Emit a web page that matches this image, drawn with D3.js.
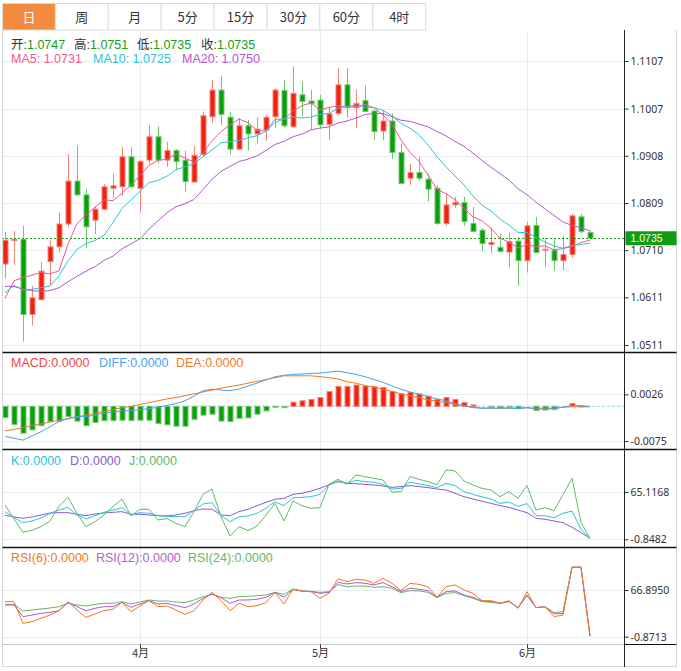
<!DOCTYPE html>
<html><head><meta charset="utf-8">
<script src="https://cdn.jsdelivr.net/npm/d3@7/dist/d3.min.js"></script>
<style>
body{margin:0;background:#fff;}
svg{display:block;font-family:"Noto Sans CJK SC","Noto Sans",sans-serif;}
</style>
</head><body>
<svg id="c" width="681" height="671"></svg>
<script>
// ---------------- DATA ----------------
const tabs = ["日","周","月","5分","15分","30分","60分","4时"];
const dates = [
"2023-03-13","2023-03-14","2023-03-15","2023-03-16","2023-03-17","2023-03-20","2023-03-21","2023-03-22","2023-03-23","2023-03-24",
"2023-03-27","2023-03-28","2023-03-29","2023-03-30","2023-03-31","2023-04-03","2023-04-04","2023-04-05","2023-04-06","2023-04-07",
"2023-04-10","2023-04-11","2023-04-12","2023-04-13","2023-04-14","2023-04-17","2023-04-18","2023-04-19","2023-04-20","2023-04-21",
"2023-04-24","2023-04-25","2023-04-26","2023-04-27","2023-04-28","2023-05-01","2023-05-02","2023-05-03","2023-05-04","2023-05-05",
"2023-05-08","2023-05-09","2023-05-10","2023-05-11","2023-05-12","2023-05-15","2023-05-16","2023-05-17","2023-05-18","2023-05-19",
"2023-05-22","2023-05-23","2023-05-24","2023-05-25","2023-05-26","2023-05-29","2023-05-30","2023-05-31","2023-06-01","2023-06-02",
"2023-06-05","2023-06-06","2023-06-07","2023-06-08","2023-06-09","2023-06-12"];
const open = [1.0681,1.0730,1.0733,1.0575,1.0606,1.0686,1.0717,1.0765,1.0855,1.0826,
1.0773,1.0796,1.0840,1.0843,1.0906,1.0840,1.0899,1.0948,1.0899,1.0919,
1.0899,1.0853,1.0911,1.0990,1.1046,1.0989,1.0922,1.0971,1.0954,1.0962,
1.0990,1.1045,1.0969,1.1036,1.1023,1.1025,1.0974,1.0997,1.1057,1.1009,
1.1024,1.1002,1.0960,1.0981,1.0915,1.0861,1.0873,1.0859,1.0840,1.0766,
1.0805,1.0810,1.0766,1.0752,1.0722,1.0716,1.0706,1.0729,1.0688,1.0762,
1.0710,1.0710,1.0688,1.0701,1.0780,1.0747];
const high = [1.0748,1.0750,1.0761,1.0635,1.0686,1.0731,1.0789,1.0912,1.0930,1.0838,
1.0801,1.0849,1.0871,1.0926,1.0926,1.0900,1.0973,1.0970,1.0938,1.0922,
1.0919,1.0929,1.1001,1.1067,1.1076,1.1000,1.0987,1.0983,1.0989,1.0994,
1.1050,1.1067,1.1096,1.1064,1.1046,1.1036,1.1011,1.1092,1.1092,1.1047,
1.1055,1.1004,1.1004,1.0997,1.0934,1.0891,1.0906,1.0871,1.0847,1.0829,
1.0822,1.0822,1.0801,1.0756,1.0756,1.0744,1.0747,1.0738,1.0770,1.0780,
1.0735,1.0735,1.0740,1.0787,1.0786,1.0751];
const low = [1.0651,1.0679,1.0518,1.0552,1.0605,1.0637,1.0705,1.0759,1.0824,1.0714,
1.0744,1.0794,1.0819,1.0824,1.0842,1.0789,1.0892,1.0892,1.0885,1.0878,
1.0833,1.0852,1.0906,1.0978,1.0973,1.0911,1.0920,1.0919,1.0934,1.0939,
1.0966,1.0966,1.0967,1.0992,1.0962,1.0964,1.0941,1.0992,1.0988,1.0967,
1.1000,1.0941,1.0941,1.0901,1.0850,1.0847,1.0856,1.0812,1.0763,1.0761,
1.0798,1.0761,1.0749,1.0708,1.0703,1.0707,1.0674,1.0635,1.0663,1.0705,
1.0675,1.0667,1.0668,1.0694,1.0745,1.0735];
const close = [1.0731,1.0733,1.0575,1.0610,1.0666,1.0717,1.0765,1.0855,1.0826,1.0759,
1.0796,1.0843,1.0845,1.0906,1.0843,1.0896,1.0948,1.0899,1.0919,1.0896,
1.0854,1.0909,1.0992,1.1046,1.0995,1.0922,1.0971,1.0954,1.0964,1.0989,
1.1046,1.0971,1.1039,1.1022,1.1017,1.0973,1.0996,1.1057,1.1009,1.1018,
1.1001,1.0959,1.0981,1.0915,1.0850,1.0873,1.0861,1.0838,1.0766,1.0805,
1.0810,1.0770,1.0749,1.0724,1.0726,1.0707,1.0728,1.0688,1.0761,1.0705,
1.0712,1.0688,1.0701,1.0782,1.0749,1.0735];
// closes of the 19 sessions before the first candle (feed the moving averages)
const prevCloses = [1.0737,1.0689,1.0672,1.0694,1.0686,1.0648,1.0605,1.0596,1.0546,1.0606,
1.0576,1.0668,1.0597,1.0634,1.0683,1.0548,1.0545,1.0581,1.0640];

const diff = [-0.0065,-0.0069,-0.0073,-0.0064,-0.0055,-0.0044,-0.0033,-0.0026,-0.0022,-0.0022,
-0.0019,-0.0015,-0.0012,-0.0010,-0.0009,-0.0007,-0.0005,-0.0002,0.0002,0.0006,
0.0012,0.0022,0.0034,0.0037,0.0035,0.0034,0.0037,0.0044,0.0050,0.0057,
0.0064,0.0067,0.0069,0.0070,0.0071,0.0072,0.0074,0.0076,0.0073,0.0069,
0.0064,0.0058,0.0052,0.0044,0.0037,0.0031,0.0026,0.0021,0.0016,0.0012,
0.0006,0.0001,-0.0003,-0.0004,-0.0004,-0.0004,-0.0004,-0.0005,-0.0003,-0.0006,
-0.0006,-0.0005,-0.0002,0.0002,0.0001,0.0000];
const dea = [-0.0053,-0.0050,-0.0046,-0.0042,-0.0038,-0.0034,-0.0030,-0.0027,-0.0023,-0.0019,
-0.0015,-0.0011,-0.0007,-0.0003,0.0000,0.0004,0.0008,0.0012,0.0016,0.0019,
0.0023,0.0027,0.0031,0.0035,0.0039,0.0043,0.0046,0.0050,0.0054,0.0058,
0.0062,0.0066,0.0066,0.0066,0.0066,0.0064,0.0062,0.0059,0.0053,0.0050,
0.0045,0.0041,0.0037,0.0032,0.0027,0.0023,0.0019,0.0014,0.0011,0.0008,
0.0004,0.0001,-0.0002,-0.0004,-0.0004,-0.0004,-0.0004,-0.0004,-0.0003,-0.0004,
-0.0004,-0.0004,-0.0002,-0.0001,-0.0001,-0.0001];
const macd = [-0.00245,-0.0039,-0.0058,-0.0051,-0.0042,-0.0033,-0.0032,-0.0022,-0.0032,-0.0042,
-0.0035,-0.0031,-0.0031,-0.0030,-0.0031,-0.0030,-0.0030,-0.0037,-0.0040,-0.0043,
-0.0043,-0.0028,-0.0019,-0.0017,-0.0032,-0.0033,-0.0026,-0.0025,-0.0017,-0.0010,
-0.0001,-0.0003,0.0009,0.0012,0.0015,0.0019,0.0032,0.0043,0.0043,0.0046,
0.0044,0.0043,0.0041,0.0032,0.0027,0.0030,0.0027,0.0022,0.0015,0.0019,
0.0015,0.0008,0.0003,0.0000,-0.0002,-0.0003,-0.0002,-0.0005,0.0000,-0.0009,
-0.0008,-0.0007,0.0000,0.0006,0.0001,0.0000];

const kVal = [37.7,29.3,22.4,24.7,28.9,35.4,40.0,43.7,33.1,27.5,
32.1,36.8,40.0,43.3,33.1,36.3,35.4,32.1,31.2,30.7,
30.7,39.1,48.4,50.3,32.1,23.8,30.7,31.7,35.4,42.4,
51.6,46.1,57.2,57.7,58.6,61.9,74.9,80.5,77.2,81.4,
79.6,78.7,75.8,69.3,70.2,78.7,76.3,74.0,71.2,77.2,
74.0,65.6,61.9,58.2,55.4,49.3,51.2,45.1,48.9,32.1,
32.1,29.3,35.4,38.6,13.1,0.5];
const dVal = [32.6,30.3,28.4,30.3,33.1,35.8,36.3,36.3,34.0,32.1,
34.4,35.8,36.8,37.7,34.0,34.0,33.1,32.1,31.7,33.1,
35.4,39.1,41.4,41.0,33.1,32.1,37.7,41.0,46.1,50.7,
54.9,56.3,61.9,63.3,66.5,70.2,75.3,79.6,77.2,76.7,
75.8,74.9,73.5,71.6,72.6,74.0,72.6,71.2,69.3,67.9,
63.3,58.6,55.4,52.1,49.3,46.1,43.7,40.0,36.3,28.4,
27.0,24.7,22.4,15.9,8.4,0.5];
const jVal = [47.0,27.5,8.9,11.7,16.8,24.7,45.0,57.7,35.4,16.8,
23.8,33.1,44.7,55.4,31.7,41.0,41.0,26.1,28.0,21.4,
16.8,37.7,61.9,68.9,30.7,3.8,16.8,11.2,17.7,33.1,
49.3,24.7,52.6,46.1,42.4,43.3,75.8,82.8,75.8,88.9,
86.6,84.2,81.9,64.7,65.6,86.6,82.8,79.6,74.9,95.9,
94.5,80.5,74.9,70.2,67.9,58.6,65.6,56.3,74.0,40.0,
43.3,39.1,61.4,84.2,22.8,0.5];

const rsi6 = [50.0,50.0,18.5,20.9,25.8,30.6,36.9,50.0,37.9,27.2,
32.1,36.9,38.8,49.0,35.5,43.7,51.4,42.7,43.7,37.9,
31.6,36.9,52.4,63.5,51.4,36.9,47.6,42.7,44.2,48.5,
63.0,46.6,67.9,65.0,64.5,54.8,62.1,83.3,79.0,82.4,
81.4,76.6,83.8,76.6,65.9,76.6,75.1,71.7,56.3,71.7,
74.2,66.9,62.1,51.4,51.4,47.6,51.4,40.3,64.5,41.3,
42.7,28.2,30.6,100,100,0];
const rsi12 = [45.1,45.1,28.2,30.6,33.0,34.5,36.9,48.5,42.7,36.9,
40.3,42.7,42.7,49.0,41.7,46.6,51.4,46.6,47.6,44.2,
41.3,46.6,54.8,61.1,55.8,47.6,52.4,52.4,53.4,56.3,
63.5,56.3,67.9,65.5,64.5,62.1,63.5,78.0,75.6,77.6,
76.6,74.2,77.6,71.7,64.5,69.3,67.9,65.9,56.3,64.5,
65.5,59.6,56.3,50.9,50.0,47.6,50.5,41.3,59.6,41.3,
42.7,32.1,33.0,100,100,0];
const rsi24 = [46.1,46.1,36.4,37.9,39.3,40.8,42.7,47.6,45.1,43.7,
46.1,47.6,47.6,50.0,46.6,49.5,52.4,50.9,50.9,49.5,
48.5,52.4,57.2,60.6,56.3,54.8,57.2,57.7,58.7,59.6,
63.5,60.6,68.3,65.5,65.0,63.5,64.5,74.7,71.7,72.7,
72.7,70.8,71.7,69.3,63.0,65.9,65.5,63.5,55.8,62.1,
63.0,58.7,54.8,50.0,49.0,47.6,50.0,41.3,58.7,41.3,
42.7,34.0,35.5,100,100,0];

const priceTicks = [1.0511,1.0611,1.0710,1.0809,1.0908,1.1007,1.1107];
const macdTicks = [0.0026,-0.0075];
const kdjTicks = [65.1168,-0.8482];
const rsiTicks = [66.8950,-0.8713];
const lastPrice = 1.0735;
const legendZero = "0.0000";

// ---------------- DRAW ----------------
const svg = d3.select("#c");
const n = close.length;
const PL = 2, PR = 624.5, AXR = 676.5;
const C = {up:"#f3220e", upL:"#f4837a", dn:"#0b9f0b", dnL:"#72c872",
  grid:"#e7edf3", ma5:"#ef5b8c", ma10:"#2fc3dc", ma20:"#b358d2",
  diff:"#4aa2ec", dea:"#f4781c", k:"#2cc4dc", d:"#8a5cd2", j:"#62bb62",
  r6:"#f4781c", r12:"#b55bd0", r24:"#62bb62", text:"#333"};
const LEG_FONT = "'Liberation Sans','Noto Sans CJK SC',sans-serif";

const x = d3.scalePoint().domain(d3.range(n)).range([5, 5 + 9*(n-1)]);
const yP = d3.scaleLinear().domain([1.0511,1.1107]).range([345,61]);
const yM = d3.scaleLinear().domain([-0.0075,0.0026]).range([441,394.3]);
const yK = d3.scaleLinear().domain([-0.8482,65.1168]).range([539.3,492]);
const yR = d3.scaleLinear().domain([-0.8713,66.895]).range([636.7,590]);

// tabs
const tabW = 52.9;
const tg = svg.append("g");
tabs.forEach((t,i)=>{
  tg.append("rect").attr("x",2.5+i*tabW).attr("y",3.5).attr("width",tabW).attr("height",26.5)
    .attr("fill", i===0 ? "#f28b3e" : "#fff").attr("stroke","#dcdcdc");
  tg.append("text").attr("x",2.5+i*tabW+tabW/2).attr("y",21.5).attr("text-anchor","middle")
    .attr("font-size",13).attr("fill", i===0 ? "#fff" : "#333").text(t);
});

// frame
svg.append("line").attr("x1",2.5).attr("x2",2.5).attr("y1",30).attr("y2",667).attr("stroke","#d6d6d6");
svg.append("line").attr("x1",AXR).attr("x2",AXR).attr("y1",30).attr("y2",667).attr("stroke","#d6d6d6");
svg.append("line").attr("x1",2.5).attr("x2",AXR).attr("y1",666.5).attr("y2",666.5).attr("stroke","#d6d6d6");

// clip
svg.append("clipPath").attr("id","plot").append("rect").attr("x",PL+1).attr("y",31).attr("width",PR-PL-1).attr("height",613);

// grids
function hgrid(scale, ticks){
  svg.append("g").selectAll("line").data(ticks).join("line")
   .attr("x1",PL+1).attr("x2",PR).attr("y1",d=>Math.round(scale(d))+0.5).attr("y2",d=>Math.round(scale(d))+0.5)
   .attr("stroke",C.grid);
}
hgrid(yP, priceTicks); hgrid(yM, macdTicks); hgrid(yK, kdjTicks); hgrid(yR, rsiTicks);
const monthStarts = d3.range(1,n).filter(i => dates[i].slice(5,7) !== dates[i-1].slice(5,7));
svg.append("g").selectAll("line").data(monthStarts).join("line")
  .attr("x1",i=>Math.round(x(i))+0.5).attr("x2",i=>Math.round(x(i))+0.5).attr("y1",31).attr("y2",644)
  .attr("stroke",C.grid);

const plot = svg.append("g").attr("clip-path","url(#plot)");

// candles
const cg = plot.append("g");
d3.range(n).forEach(i=>{
  const up = close[i] >= open[i];
  const cx = Math.round(x(i)) + 0.5;
  cg.append("line").attr("x1",cx).attr("x2",cx).attr("y1",yP(high[i])).attr("y2",yP(low[i]))
    .attr("stroke", up?C.upL:C.dnL);
  const y0 = yP(Math.max(open[i],close[i])), y1 = yP(Math.min(open[i],close[i]));
  cg.append("rect").attr("x",cx-2.5).attr("y",y0).attr("width",5).attr("height",Math.max(1,y1-y0))
    .attr("fill", up?C.up:C.dn).attr("stroke", up?C.upL:C.dnL).attr("stroke-width",1);
});

// moving averages
const allCloses = prevCloses.concat(close);
const off = prevCloses.length;
function ma(p){ return close.map((c,i)=> d3.mean(allCloses.slice(i+off-p+1, i+off+1))); }
const lineP = d3.line().x((d,i)=>x(i)).y(d=>yP(d));
[[ma(5),C.ma5],[ma(10),C.ma10],[ma(20),C.ma20]].forEach(([arr,col])=>{
  plot.append("path").attr("d",lineP(arr)).attr("fill","none").attr("stroke",col).attr("stroke-width",1);
});

// last price line
plot.append("line").attr("x1",PL).attr("x2",PR).attr("y1",Math.round(yP(lastPrice))+0.5).attr("y2",Math.round(yP(lastPrice))+0.5)
  .attr("stroke","#18a418").attr("stroke-dasharray","2,2");

// MACD
plot.append("line").attr("x1",PL).attr("x2",PR).attr("y1",yM(0)).attr("y2",yM(0))
  .attr("stroke","#9fd6ea").attr("stroke-dasharray","3,2");
d3.range(n).forEach(i=>{
  const v = macd[i]; if (v===0) return;
  const cx = Math.round(x(i)) + 0.5;
  const ya = yM(Math.max(0,v)), yb = yM(Math.min(0,v));
  plot.append("rect").attr("x",cx-2.5).attr("y",ya).attr("width",5).attr("height",Math.max(1,yb-ya))
    .attr("fill", v>0?C.up:C.dn).attr("stroke", v>0?C.upL:C.dnL);
});
const lineM = d3.line().x((d,i)=>x(i)).y(d=>yM(d));
plot.append("path").attr("d",lineM(dea)).attr("fill","none").attr("stroke",C.dea).attr("stroke-width",1);
plot.append("path").attr("d",lineM(diff)).attr("fill","none").attr("stroke",C.diff).attr("stroke-width",1);

// KDJ
const lineK = d3.line().x((d,i)=>x(i)).y(d=>yK(d));
[[dVal,C.d],[kVal,C.k],[jVal,C.j]].forEach(([a,col])=>{
  plot.append("path").attr("d",lineK(a)).attr("fill","none").attr("stroke",col).attr("stroke-width",1);
});

// RSI
const lineR = d3.line().x((d,i)=>x(i)).y(d=>yR(d));
[[rsi24,C.r24],[rsi12,C.r12],[rsi6,C.r6]].forEach(([a,col])=>{
  plot.append("path").attr("d",lineR(a)).attr("fill","none").attr("stroke",col).attr("stroke-width",1);
});

// panel separators
[352.5,449.5,547.5].forEach(yy=>{
  svg.append("line").attr("x1",2.5).attr("x2",AXR).attr("y1",yy).attr("y2",yy).attr("stroke","#111").attr("stroke-width",1.5);
});
svg.append("line").attr("x1",2.5).attr("x2",PR).attr("y1",644.5).attr("y2",644.5).attr("stroke","#c8c8c8");
svg.append("line").attr("x1",PR).attr("x2",AXR).attr("y1",644.5).attr("y2",644.5).attr("stroke","#111");
svg.append("line").attr("x1",PR).attr("x2",PR).attr("y1",30).attr("y2",667).attr("stroke","#222");

// right axes
function rAxis(scale, ticks){
  const g = svg.append("g").attr("transform",`translate(${PR},0)`)
    .call(d3.axisRight(scale).tickValues(ticks).tickSize(4).tickPadding(2).tickFormat(d=>d.toFixed(4)));
  g.select(".domain").remove();
  g.selectAll("text").attr("font-size",10.5).attr("fill",C.text).attr("font-family","'Noto Sans','DejaVu Sans',sans-serif");
  g.selectAll("line").attr("stroke","#333");
}
rAxis(yP, priceTicks); rAxis(yM, macdTicks); rAxis(yK, kdjTicks); rAxis(yR, rsiTicks);

// last price tag
const ly = yP(lastPrice);
svg.append("rect").attr("x",PR+1).attr("y",ly-7).attr("width",AXR-PR-1).attr("height",14).attr("fill","#0f9e0f");
svg.append("text").attr("x",PR+6).attr("y",ly+3.5).attr("font-size",10.5).attr("fill","#fff")
  .attr("font-family","'Liberation Sans','DejaVu Sans',sans-serif").text(lastPrice.toFixed(4));

// x axis
const xg = svg.append("g");
monthStarts.forEach(i=>{
  const xx = Math.round(x(i))+0.5;
  xg.append("line").attr("x1",xx).attr("x2",xx).attr("y1",644.5).attr("y2",648).attr("stroke","#333");
  xg.append("text").attr("x",xx).attr("y",657).attr("text-anchor","middle").attr("font-size",11).attr("fill",C.text)
    .text((+dates[i].slice(5,7)) + "月");
});

// legends: one text element per item (label + value)
function legend(y, items){
  items.forEach(([xx,label,val,lc,vc])=>{
    const t = svg.append("text").attr("x",xx).attr("y",y).attr("font-size",12.5).attr("font-family",LEG_FONT);
    t.append("tspan").attr("fill",lc).text(label);
    t.append("tspan").attr("fill",vc).text(val);
  });
}
const last = n-1;
const f4 = v => v.toFixed(4);
legend(48.5, [[11,"开:",f4(open[last]),"#333","#13a013"],[74,"高:",f4(high[last]),"#333","#13a013"],
  [137,"低:",f4(low[last]),"#333","#13a013"],[201,"收:",f4(close[last]),"#333","#13a013"]]);
legend(62.5, [[11,"MA5: ",f4(ma(5)[last]),C.ma5,C.ma5],[93,"MA10: ",f4(ma(10)[last]),C.ma10,C.ma10],
  [182,"MA20: ",f4(ma(20)[last]),C.ma20,C.ma20]]);
legend(366.5, [[11,"MACD:",legendZero,"#ef4545","#ef4545"],[99,"DIFF:",legendZero,C.diff,C.diff],[176,"DEA:",legendZero,C.dea,C.dea]]);
legend(464.5, [[11,"K:",legendZero,C.k,C.k],[70,"D:",legendZero,C.d,C.d],[129,"J:",legendZero,C.j,C.j]]);
legend(561.5, [[11,"RSI(6):",legendZero,C.r6,C.r6],[96,"RSI(12):",legendZero,C.r12,C.r12],[188,"RSI(24):",legendZero,C.r24,C.r24]]);
</script>
</body></html>
